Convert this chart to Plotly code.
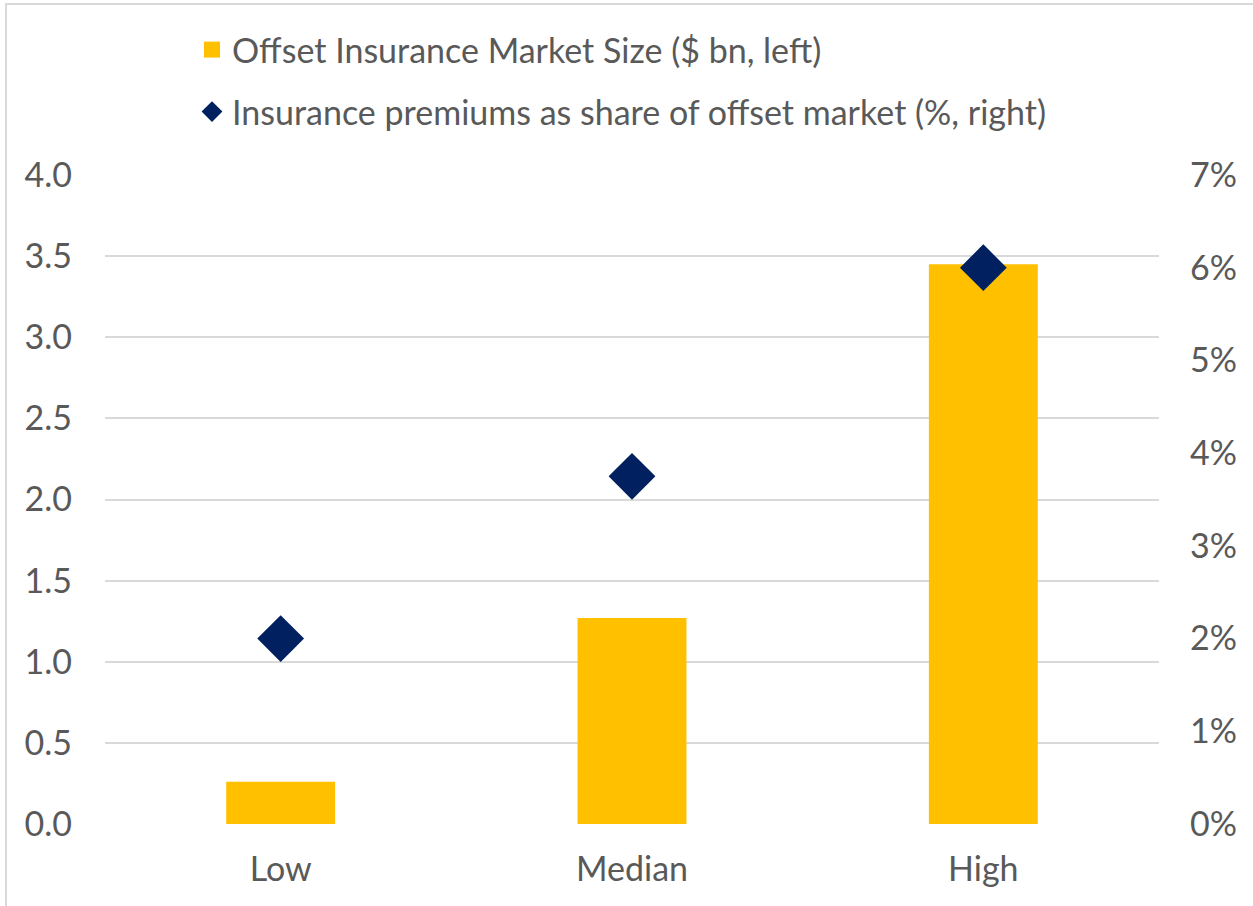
import plotly.graph_objects as go

categories = ["Low", "Median", "High"]
market_size = [0.26, 1.27, 3.45]          # $ bn, left axis
premium_share = [2.0, 3.75, 6.0]          # %, right axis
left_ticks = [0, 0.5, 1.0, 1.5, 2.0, 2.5, 3.0, 3.5, 4.0]
right_ticks = [0, 1, 2, 3, 4, 5, 6, 7]
right_tick_text = [f"{v}%" for v in right_ticks]

BAR_COLOR = "#FFC000"
DIAMOND_COLOR = "#002060"
TEXT_COLOR = "#595959"
GRID_COLOR = "#D9D9D9"
FONT = "Lato, 'Open Sans', sans-serif"

W, H = 1253, 906
L, R, T, B = 105, 94, 175, 82

fig = go.Figure()
fig.add_trace(go.Bar(x=categories, y=market_size, marker=dict(color=BAR_COLOR, line=dict(width=0)),
                     width=0.31, showlegend=False, yaxis="y"))
fig.add_trace(go.Scatter(x=categories, y=premium_share, mode="markers",
                         marker=dict(symbol="diamond", size=36, color=DIAMOND_COLOR),
                         showlegend=False, yaxis="y2"))
# legend entries
fig.add_trace(go.Scatter(x=[None], y=[None], mode="markers", name="Offset Insurance Market Size ($ bn, left)",
                         marker=dict(symbol="square", size=20, color=BAR_COLOR), legend="legend"))
fig.add_trace(go.Scatter(x=[None], y=[None], mode="markers",
                         name="Insurance premiums as share of offset market (%, right)",
                         marker=dict(symbol="diamond", size=20, color=DIAMOND_COLOR), legend="legend2"))

pw = W - L - R
ph = H - T - B
def px_x(p): return (p - L) / pw
def px_y(p): return (H - B - p) / ph

fig.update_layout(
    width=W, height=H,
    margin=dict(l=L, r=R, t=T, b=B, autoexpand=False),
    paper_bgcolor="white", plot_bgcolor="white",
    font=dict(family=FONT, size=34, color=TEXT_COLOR),
    xaxis=dict(showgrid=False, showline=False, ticks="", tickfont=dict(size=34, color=TEXT_COLOR),
               ticklabelstandoff=22, fixedrange=True, automargin=False),
    yaxis=dict(range=[0, 4.0], tickvals=left_ticks, tickformat=".1f", showgrid=True,
               gridcolor=GRID_COLOR, gridwidth=1.5, zeroline=False, showline=False,
               tickfont=dict(size=34, color=TEXT_COLOR), ticklabelstandoff=32, automargin=False),
    yaxis2=dict(range=[0, 7], tickvals=right_ticks, ticktext=right_tick_text, overlaying="y", side="right",
                showgrid=False, zeroline=False, showline=False, automargin=False,
                tickfont=dict(size=34, color=TEXT_COLOR), ticklabelstandoff=30),
    legend=dict(x=px_x(192), y=px_y(50), xanchor="left", yanchor="middle", bgcolor="rgba(0,0,0,0)",
                font=dict(size=34, color=TEXT_COLOR), itemwidth=30),
    legend2=dict(x=px_x(192), y=px_y(112), xanchor="left", yanchor="middle", bgcolor="rgba(0,0,0,0)",
                 font=dict(size=34, color=TEXT_COLOR), itemwidth=30),
    bargap=0.69,
    shapes=[dict(type="rect", xref="paper", yref="paper",
                 x0=px_x(6), x1=px_x(W + 20), y0=px_y(H + 20), y1=px_y(4),
                 line=dict(color=GRID_COLOR, width=2), fillcolor="rgba(0,0,0,0)", layer="below")],
)

fig.write_html("out.html", config={"displayModeBar": False},
               post_script="document.body.style.margin='0';")
